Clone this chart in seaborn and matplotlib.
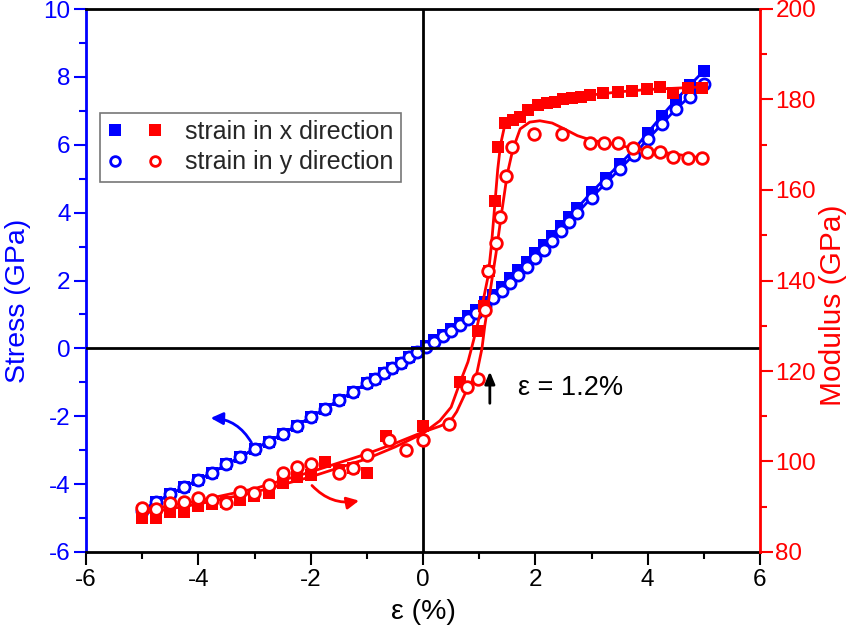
import numpy as np
import pandas as pd
import matplotlib
matplotlib.use("Agg")
import matplotlib.pyplot as plt
import seaborn as sns
from matplotlib.legend_handler import HandlerTuple
from matplotlib.lines import Line2D
from matplotlib.ticker import MultipleLocator

# ---------------- data ----------------
# stress, strain in x direction (blue squares)
stress_x_strain = [-5.0, -4.75, -4.5, -4.25, -4.0, -3.75, -3.5, -3.25, -3.0, -2.75, -2.5, -2.25,
                   -2.0, -1.75, -1.5, -1.25, -1.0, -0.85, -0.7, -0.55, -0.4, -0.25, -0.1,
                   0.05, 0.2, 0.35, 0.5, 0.65, 0.8, 0.95, 1.1, 1.25, 1.4, 1.55, 1.7, 1.85,
                   2.0, 2.15, 2.3, 2.45, 2.6, 2.75, 3.0, 3.25, 3.5, 3.75, 4.0, 4.25, 4.5, 4.75, 5.0]
stress_x_vals = [-4.78, -4.52, -4.3, -4.08, -3.87, -3.66, -3.42, -3.2, -2.96, -2.75, -2.52, -2.28,
                 -2.03, -1.78, -1.53, -1.28, -1.03, -0.9, -0.74, -0.58, -0.42, -0.26, -0.1,
                 0.08, 0.24, 0.4, 0.56, 0.74, 0.94, 1.14, 1.36, 1.58, 1.82, 2.06, 2.3, 2.55,
                 2.8, 3.05, 3.32, 3.6, 3.87, 4.14, 4.6, 5.02, 5.42, 5.85, 6.35, 6.85, 7.32, 7.75, 8.18]

# stress, strain in y direction (blue open circles)
stress_y_strain = stress_x_strain
stress_y_vals = [-4.78, -4.52, -4.3, -4.08, -3.87, -3.66, -3.42, -3.2, -2.96, -2.75, -2.52, -2.28,
                 -2.03, -1.78, -1.53, -1.28, -1.03, -0.9, -0.74, -0.58, -0.42, -0.26, -0.1,
                 0.05, 0.2, 0.35, 0.51, 0.68, 0.86, 1.05, 1.26, 1.47, 1.7, 1.93, 2.17, 2.41,
                 2.66, 2.91, 3.17, 3.45, 3.72, 3.99, 4.44, 4.86, 5.28, 5.7, 6.16, 6.6, 7.05, 7.42, 7.78]

# modulus, strain in x direction (red squares)
mod_x_strain = [-5.0, -4.75, -4.5, -4.25, -4.0, -3.75, -3.5, -3.25, -3.0, -2.75, -2.5, -2.25, -2.0,
                -1.75, -1.5, -1.25, -1.0, -0.65, 0.0, 0.65, 0.98, 1.08, 1.18, 1.28, 1.34, 1.46,
                1.6, 1.72, 1.87, 2.05, 2.2, 2.35, 2.5, 2.65, 2.82, 2.97, 3.2, 3.47, 3.72, 3.98,
                4.22, 4.45, 4.72, 4.97]
mod_x_vals = [87.5, 87.5, 88.8, 88.8, 90.2, 90.6, 91.0, 91.5, 92.4, 93.0, 95.2, 96.6, 97.0,
              99.8, 98.2, 98.6, 97.4, 105.6, 107.8, 117.6, 128.8, 134.4, 142.0, 157.5, 169.6, 174.8,
              175.5, 176.2, 177.7, 178.8, 179.3, 179.5, 180.0, 180.4, 180.6, 181.0, 181.4, 181.7, 181.9, 182.3,
              182.7, 181.4, 182.5, 182.5]

# modulus, strain in y direction (red open circles)
mod_y_strain = [-5.0, -4.75, -4.5, -4.25, -4.0, -3.75, -3.5, -3.25, -3.0, -2.75, -2.5, -2.25, -2.0,
                -1.5, -1.25, -1.0, -0.6, -0.3, 0.0, 0.47, 0.78, 0.98, 1.1, 1.16, 1.3, 1.37, 1.48,
                1.58, 1.97, 2.47, 2.97, 3.22, 3.47, 3.74, 3.98, 4.22, 4.45, 4.72, 4.97]
mod_y_vals = [89.7, 89.5, 90.8, 91.1, 91.9, 91.5, 90.8, 93.3, 93.0, 94.8, 97.5, 98.8, 99.5,
              97.5, 98.6, 101.4, 104.7, 102.5, 104.7, 108.3, 116.5, 118.2, 133.5, 142.0, 148.3, 154.0, 163.0,
              169.5, 172.4, 172.4, 170.4, 170.4, 170.4, 169.3, 168.4, 168.4, 167.3, 167.1, 167.1]

# fitted curves
fit_x_strain = [-5.0, -4.0, -3.0, -2.0, -1.0, -0.5, 0.0, 0.3, 0.5, 0.66, 0.8, 0.87, 0.96, 1.07,
                1.16, 1.22, 1.28, 1.33, 1.38, 1.45, 1.55, 1.75, 2.0, 2.5, 3.0, 3.5, 4.0, 4.5, 5.0]
fit_x_vals = [88.5, 90.6, 93.2, 96.6, 100.6, 103.2, 106.2, 109.0, 112.0, 117.5, 122.0, 125.3, 129.7, 135.5,
              141.0, 148.0, 157.0, 164.5, 170.0, 174.0, 175.8, 177.0, 178.5, 180.0, 181.0, 181.7, 182.2, 182.5, 182.8]

fit_y_strain = [-5.0, -4.0, -3.0, -2.0, -1.0, -0.5, 0.0, 0.3, 0.48, 0.6, 0.78, 0.96, 1.05, 1.1,
                1.2, 1.3, 1.4, 1.5, 1.6, 1.73, 1.9, 2.08, 2.3, 2.5, 2.75, 3.0, 3.45, 3.75, 4.34, 5.0]
fit_y_vals = [89.2, 91.3, 94.0, 97.7, 101.7, 104.0, 106.5, 107.8, 108.8, 111.0, 115.8, 119.6, 125.0, 130.0,
              138.0, 146.0, 155.0, 163.5, 169.0, 173.5, 175.0, 175.3, 174.8, 173.6, 172.0, 171.0, 170.0, 169.2, 168.2, 167.0]

legend_labels = ["strain in x direction", "strain in y direction"]

# ---------------- style ----------------
sns.set_theme(style="white")
plt.rcParams['font.family'] = ['Liberation Sans', 'DejaVu Sans']
plt.rcParams['axes.unicode_minus'] = False

BLUE = '#0000ff'
RED = '#ff0000'
TICK_FS = 17.5

fig = plt.figure(figsize=(8.5, 6.34), dpi=100)
ax = fig.add_axes([86 / 850, 82 / 634, 674 / 850, 543 / 634])
ax2 = ax.twinx()

# blue stress curves
sns.lineplot(x=stress_x_strain, y=stress_x_vals, ax=ax, color=BLUE, lw=2, sort=False,
             marker='s', markersize=8, markeredgewidth=0, markerfacecolor=BLUE, zorder=3)
sns.lineplot(x=stress_y_strain, y=stress_y_vals, ax=ax, color=BLUE, lw=2, sort=False,
             marker='o', markersize=8, markeredgewidth=2, markerfacecolor='white',
             markeredgecolor=BLUE, zorder=3)

# black zero lines
ax.axhline(0, color='black', lw=2, zorder=4)
ax.axvline(0, color='black', lw=2, zorder=4)

# red modulus fits and points
sns.lineplot(x=fit_x_strain, y=fit_x_vals, ax=ax2, color=RED, lw=2, sort=False, zorder=2)
sns.lineplot(x=fit_y_strain, y=fit_y_vals, ax=ax2, color=RED, lw=2, sort=False, zorder=2)
sns.scatterplot(x=mod_x_strain, y=mod_x_vals, ax=ax2, marker='s', color=RED, s=75,
                linewidth=0, zorder=3)
sns.scatterplot(x=mod_y_strain, y=mod_y_vals, ax=ax2, marker='o', color='white', edgecolor=RED,
                s=70, linewidth=2, zorder=3)

# axes ranges
ax.set_xlim(-6, 6)
ax.set_ylim(-6, 10)
ax2.set_ylim(80, 200)

# ticks
ax.xaxis.set_major_locator(MultipleLocator(2))
ax.xaxis.set_minor_locator(MultipleLocator(1))
ax.yaxis.set_major_locator(MultipleLocator(2))
ax.yaxis.set_minor_locator(MultipleLocator(1))
ax2.yaxis.set_major_locator(MultipleLocator(20))
ax2.yaxis.set_minor_locator(MultipleLocator(10))

ax.tick_params(axis='x', which='both', direction='out', bottom=True, top=False,
               colors='black', width=1.5, labelsize=TICK_FS, pad=3)
ax.tick_params(axis='x', which='major', length=9)
ax.tick_params(axis='x', which='minor', length=5)
ax.tick_params(axis='y', which='both', direction='out', left=True, right=False,
               colors=BLUE, width=1.5, labelsize=TICK_FS, pad=2)
ax.tick_params(axis='y', which='major', length=9)
ax.tick_params(axis='y', which='minor', length=5)
ax2.tick_params(axis='y', which='both', direction='out', right=True, left=False,
                colors=RED, width=1.5, labelsize=TICK_FS, pad=2)
ax2.tick_params(axis='y', which='major', length=9)
ax2.tick_params(axis='y', which='minor', length=5)

for a in (ax, ax2):
    for s in a.spines.values():
        s.set_linewidth(2)
ax.spines['left'].set_color(BLUE)
ax.spines['bottom'].set_color('black')
ax.spines['top'].set_color('black')
ax.spines['right'].set_visible(False)
ax2.spines['right'].set_color(RED)
ax2.spines['left'].set_visible(False)
ax2.spines['top'].set_visible(False)
ax2.spines['bottom'].set_visible(False)

ax.set_xlabel('ε (%)', fontsize=20.5, color='black', labelpad=6)
ax.set_ylabel('Stress (GPa)', fontsize=20.5, color=BLUE)
ax.yaxis.set_label_coords(-0.081, 0.463)
ax2.set_ylabel('Modulus (GPa)', fontsize=21.5, color=RED, rotation=90)
ax2.yaxis.set_label_coords(1.087, 0.455)

# annotations
ax.annotate('', xy=(-3.83, -2.05), xytext=(-3.03, -2.85),
            arrowprops=dict(arrowstyle='-|>,head_length=0.6,head_width=0.3', color=BLUE, lw=2,
                            connectionstyle='arc3,rad=0.3'), zorder=5)
ax.annotate('', xy=(-1.09, -4.47), xytext=(-2.01, -3.98),
            arrowprops=dict(arrowstyle='-|>,head_length=0.6,head_width=0.3', color=RED, lw=2,
                            connectionstyle='arc3,rad=0.3'), zorder=5)
ax.annotate('', xy=(1.19, -0.6), xytext=(1.19, -1.7),
            arrowprops=dict(arrowstyle='-|>,head_length=0.6,head_width=0.25', color='black', lw=2),
            zorder=5)
ax.text(1.69, -1.16, 'ε = 1.2%', fontsize=19.5, color='black', va='center', ha='left')

# legend
h_x = (Line2D([], [], marker='s', ls='', color=BLUE, markersize=8, markeredgewidth=0),
       Line2D([], [], marker='s', ls='', color=RED, markersize=8, markeredgewidth=0))
h_y = (Line2D([], [], marker='o', ls='', markerfacecolor='white', markeredgecolor=BLUE,
              markersize=7, markeredgewidth=2),
       Line2D([], [], marker='o', ls='', markerfacecolor='white', markeredgecolor=RED,
              markersize=7, markeredgewidth=2))
leg = ax2.legend([h_x, h_y], legend_labels,
                 handler_map={tuple: HandlerTuple(ndivide=None, pad=1.0)},
                 loc='upper left', bbox_to_anchor=(0.021, 0.809), fontsize=18, frameon=True,
                 fancybox=False, framealpha=1, edgecolor='#777777', handlelength=2.2,
                 handletextpad=0.9, borderpad=0.3, labelspacing=0.25, borderaxespad=0)
leg.get_frame().set_linewidth(1.2)

fig.savefig('out.png', dpi=100)
